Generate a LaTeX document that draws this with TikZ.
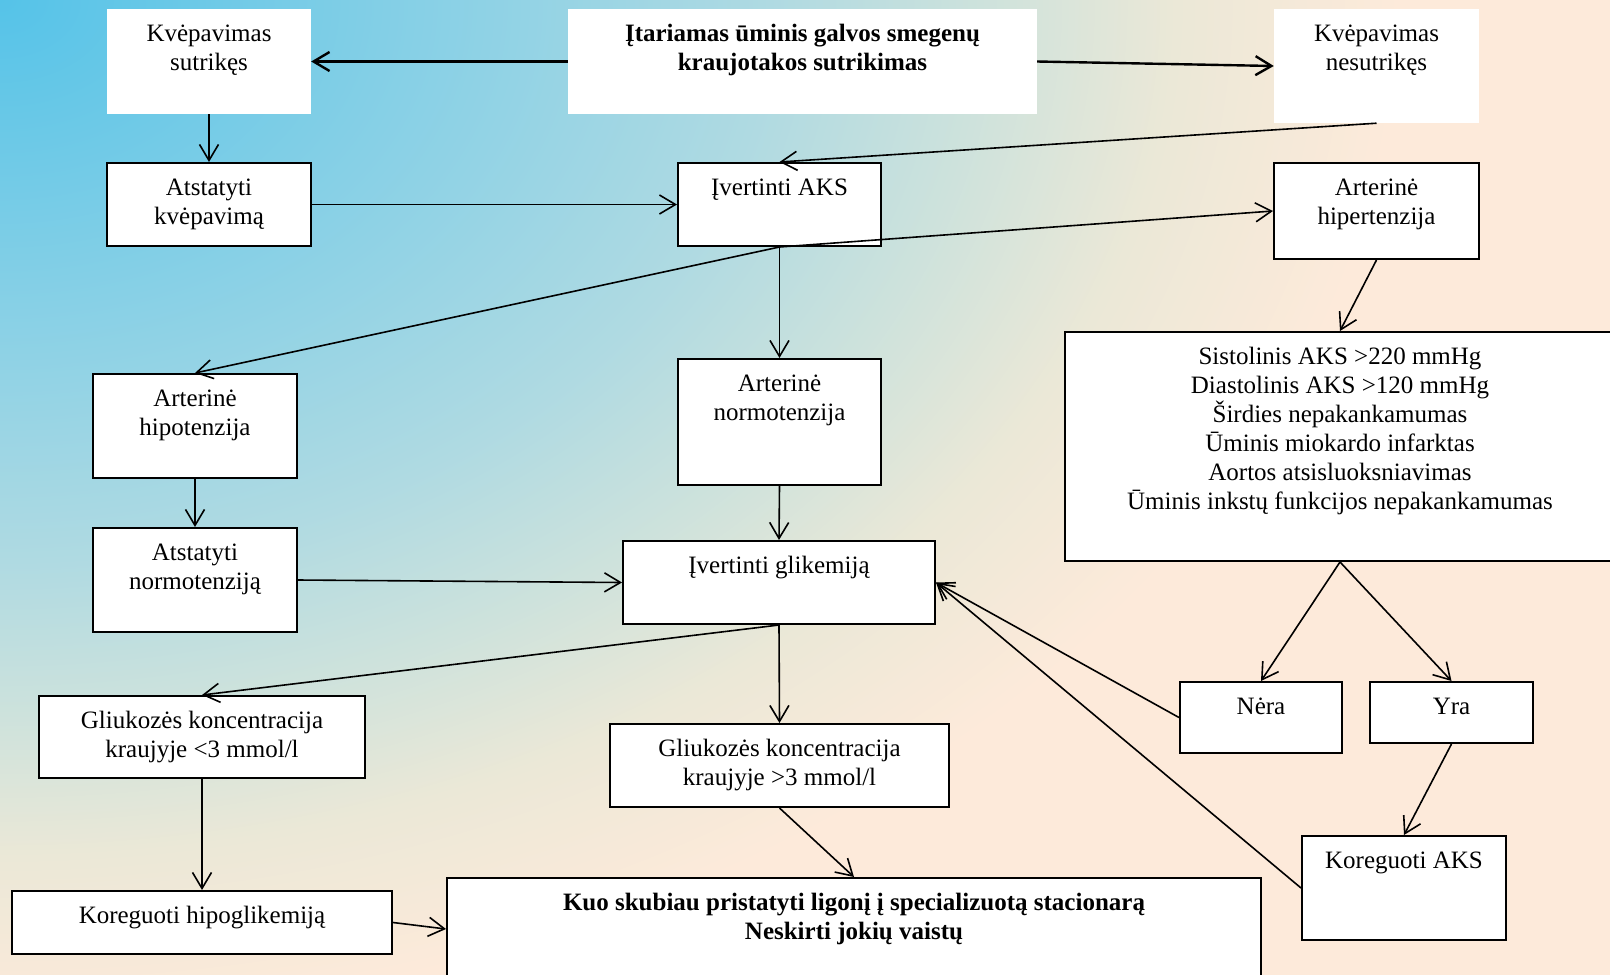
\documentclass[tikz,border=0pt]{standalone}
\usepackage{fontspec}
\setmainfont{Liberation Serif}
\usetikzlibrary{arrows.meta}

% Fono spalvos
\definecolor{fonas0}{RGB}{85,195,232}
\definecolor{fonas1}{RGB}{135,208,230}
\definecolor{fonas2}{RGB}{175,218,226}
\definecolor{fonas3}{RGB}{205,226,220}
\definecolor{fonas4}{RGB}{235,232,215}
\definecolor{persikas}{RGB}{253,234,218}

\pgfdeclareradialshading{fonas}{\pgfpointorigin}{color(0bp)=(fonas0); color(7.5bp)=(fonas1); color(13.75bp)=(fonas2); color(17.5bp)=(fonas3); color(21bp)=(fonas4); color(25bp)=(persikas); color(50bp)=(persikas)}

% Tekstas langelio viršuje
\newcommand{\turinys}[3]{\parbox[c][#2pt][t]{#1pt}{\centering\vspace*{12pt}\strut#3}}

\begin{document}
\begin{tikzpicture}[x = 1pt, y = -1pt, font = \fontsize{25}{29}\selectfont,
    > = {Straight Barb[length=16pt, width=19pt]},
    deze/.style = {draw, line width=2pt, fill=white, inner sep=0pt},
    balta/.style = {fill=white, inner sep=0pt},
    rodykle/.style = {->, line width=1.6pt},
    storarodykle/.style = {->, line width=2.4pt}]

    % Fonas
    \useasboundingbox (0,0) rectangle (1610,975);
    \fill[persikas] (0,0) rectangle (1610,975);
    \begin{scope}
        \clip (0,0) rectangle (1610,975);
        \shade[shading=fonas] (0,0) ellipse [x radius=1400pt, y radius=1020pt];
    \end{scope}

    % Viršutinė eilė
    \node[balta] (ksut) at (209,61.5) {\turinys{204}{105}{Kvėpavimas\\sutrikęs}};
    \node[balta] (itar) at (802.5,61.5) {\turinys{469}{105}{\textbf{Įtariamas ūminis galvos smegenų\\kraujotakos sutrikimas}}};
    \node[balta] (knes) at (1376.5,66) {\turinys{205}{114}{Kvėpavimas\\nesutrikęs}};

    % AKS vertinimas
    \node[deze] (atkv) at (209,204.5) {\turinys{204}{83}{Atstatyti\\kvėpavimą}};
    \node[deze] (aks) at (779.5,204.5) {\turinys{203}{83}{Įvertinti AKS}};
    \node[deze] (hiper) at (1376.5,211) {\turinys{205}{96}{Arterinė\\hipertenzija}};
    \node[deze] (krit) at (1340,446.5) {\turinys{550}{229}{Sistolinis AKS >220 mmHg\\Diastolinis AKS >120 mmHg\\Širdies nepakankamumas\\Ūminis miokardo infarktas\\Aortos atsisluoksniavimas\\Ūminis inkstų funkcijos nepakankamumas}};
    \node[deze] (hipo) at (195,426) {\turinys{204}{104}{Arterinė\\hipotenzija}};
    \node[deze] (normo) at (779.5,422) {\turinys{203}{126}{Arterinė\\normotenzija}};
    \node[deze] (atnorm) at (195,580) {\turinys{204}{104}{Atstatyti\\normotenziją}};

    % Glikemija
    \node[deze] (glik) at (779,582.5) {\turinys{312}{83}{Įvertinti glikemiją}};
    \node[deze] (glum) at (202,737) {\turinys{326}{82}{Gliukozės koncentracija\\kraujyje <3 mmol/l}};
    \node[deze] (glud) at (779.5,765.5) {\turinys{339}{83}{Gliukozės koncentracija\\kraujyje >3 mmol/l}};
    \node[deze] (nera) at (1261,717.5) {\turinys{162}{71}{Nėra}};
    \node[deze] (yra) at (1451.5,712.5) {\turinys{163}{61}{Yra}};
    \node[deze] (koraks) at (1404,888) {\turinys{204}{104}{Koreguoti AKS}};
    \node[deze] (korhipo) at (202,922.5) {\turinys{380}{63}{Koreguoti hipoglikemiją}};
    \node[deze] (skub) at (854,929) {\turinys{814}{102}{\textbf{Kuo skubiau pristatyti ligonį į specializuotą stacionarą\\Neskirti jokių vaistų}}};

    % Rodyklės
    \draw[storarodykle] (itar.west) -- (ksut.east);
    \draw[storarodykle] (itar.east) -- (knes.west);
    \draw[rodykle] (ksut.south) -- (atkv.north);
    \draw[rodykle] (knes.south) -- (aks.north);
    \draw[rodykle] (atkv.east) -- (aks.west);
    \draw[rodykle] (aks.south) -- (hiper.west);
    \draw[rodykle] (aks.south) -- (hipo.north);
    \draw[rodykle] (aks.south) -- (normo.north);
    \draw[rodykle] (hiper.south) -- (krit.north);
    \draw[rodykle] (hipo.south) -- (atnorm.north);
    \draw[rodykle] (normo.south) -- (glik.north);
    \draw[rodykle] (atnorm.east) -- (glik.west);
    \draw[rodykle] (glik.south) -- (glum.north);
    \draw[rodykle] (glik.south) -- (glud.north);
    \draw[rodykle] (glum.south) -- (korhipo.north);
    \draw[rodykle] (glud.south) -- (skub.north);
    \draw[rodykle] (korhipo.east) -- (skub.west);
    \draw[rodykle] (krit.south) -- (nera.north);
    \draw[rodykle] (krit.south) -- (yra.north);
    \draw[rodykle] (nera.west) -- (glik.east);
    \draw[rodykle] (koraks.west) -- (glik.east);
    \draw[rodykle] (yra.south) -- (koraks.north);

\end{tikzpicture}
\end{document}
